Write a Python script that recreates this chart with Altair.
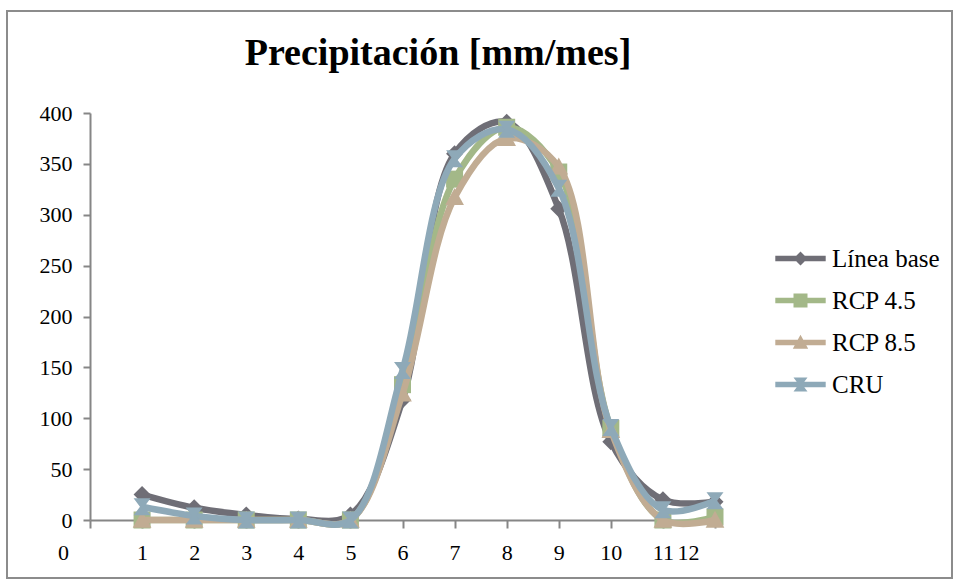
import altair as alt
import pandas as pd

months = list(range(1, 13))
linea_base = [25, 12, 5, 1, 5, 118, 360, 391, 306, 77, 20, 18]
rcp45 = [0, 0, 0, 0, 0, 133, 335, 386, 342, 90, 0, 3]
rcp85 = [0, 0, 0, 0, 0, 124, 317, 375, 347, 88, 0, 0]
cru = [13, 4, 0, 0, 0, 147, 355, 384, 326, 91, 10, 19]

series_names = ["Línea base", "RCP 4.5", "RCP 8.5", "CRU"]
series_values = [linea_base, rcp45, rcp85, cru]
colors = ["#6F6E76", "#A3B888", "#C1AC93", "#8EA9B8"]

x_ticks = list(range(0, 13))
y_ticks = list(range(0, 401, 50))

title_text = "Precipitación [mm/mes]"
FONT = "Liberation Serif"

# marker shapes for plotted points
marker_paths = [
    "M0,-1L1,0L0,1L-1,0Z",
    "M-1,-1H1V1H-1Z",
    "M0,-1.1L1.1,0.9H-1.1Z",
    "M-1,-1H1L0.25,0L1,1H-1L-0.25,0Z",
]
# legend symbols = line segment + marker
seg = "M-3.6,-0.4H3.6V0.4H-3.6Z "
legend_paths = [seg + p for p in marker_paths]

rows = []
for name, vals in zip(series_names, series_values):
    for m, v in zip(months, vals):
        rows.append({"month": m, "value": v, "series": name})
df = pd.DataFrame(rows)

x_enc = alt.X(
    "month:Q",
    scale=alt.Scale(domain=[0, 12], nice=False, zero=False),
    axis=alt.Axis(
        values=x_ticks, title=None, grid=False, labelFont=FONT, labelFontSize=22,
        labelColor="#000000", domainColor="#868686", domainWidth=2,
        tickColor="#868686", tickWidth=2, tickSize=8, labelPadding=14,
        labelFlush=False,
        labelOffset={"condition": {"test": "datum.value == 0 || datum.value == 12", "value": -27}, "value": 0},
    ),
)
y_enc = alt.Y(
    "value:Q",
    scale=alt.Scale(domain=[0, 400], nice=False),
    axis=alt.Axis(
        values=y_ticks, title=None, grid=False, labelFont=FONT, labelFontSize=22,
        labelColor="#000000", domainColor="#868686", domainWidth=2,
        tickColor="#868686", tickWidth=2, tickSize=7, labelPadding=11,
    ),
)

layers = []
for name, col, mp in zip(series_names, colors, marker_paths):
    base = alt.Chart(df).transform_filter(alt.datum.series == name)
    layers.append(
        base.mark_line(interpolate="catmull-rom", strokeWidth=6.5, color=col).encode(x=x_enc, y=y_enc)
    )
    layers.append(
        base.mark_point(filled=True, opacity=1, size=289, shape=mp, color=col).encode(x=x_enc, y=y_enc)
    )

leg = alt.Legend(
    title=None, orient="none", legendX=698, legendY=133, padding=0,
    symbolSize=196, symbolStrokeWidth=0, labelFont=FONT, labelFontSize=25,
    labelColor="#000000", labelOffset=19, rowPadding=16,
)
legend_layer = alt.Chart(df).transform_filter("false").mark_point(filled=True, opacity=1).encode(
    x=x_enc, y=y_enc,
    color=alt.Color("series:N", scale=alt.Scale(domain=series_names, range=colors), legend=leg),
    shape=alt.Shape("series:N", scale=alt.Scale(domain=series_names, range=legend_paths), legend=leg),
)

frame = alt.Chart(alt.Data(values=[{}])).mark_rect(
    fillOpacity=0, stroke="#8C8C8C", strokeWidth=2, clip=False
).encode(x=alt.value(-83), x2=alt.value(862), y=alt.value(-102), y2=alt.value(465))

title = alt.Chart(alt.Data(values=[{"t": title_text}])).mark_text(
    font=FONT, fontSize=38, fontWeight="bold", color="#000000",
    align="center", baseline="alphabetic", clip=False,
).encode(text="t:N", x=alt.value(348), y=alt.value(-48))

chart = alt.layer(frame, title, *layers, legend_layer).properties(
    width=625, height=407,
    padding={"left": 90, "top": 113, "right": 239, "bottom": 60},
    autosize=alt.AutoSizeParams(type="none"),
    background="white",
).configure_view(stroke=None)

chart.save("out.html", embed_options={"renderer": "svg", "actions": False})
